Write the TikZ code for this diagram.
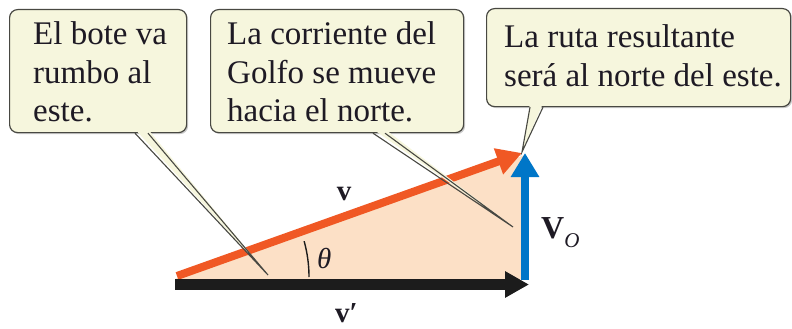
\documentclass[tikz,border=0pt]{standalone}
\usepackage{fontspec}
\setmainfont{Liberation Serif}
\usetikzlibrary{arrows.meta,calc,shadows}
\definecolor{boxfill}{RGB}{246,246,221}
\definecolor{boxline}{RGB}{72,72,66}
\definecolor{trifill}{RGB}{252,224,198}
\definecolor{orng}{RGB}{240,88,36}
\definecolor{blu}{RGB}{0,118,200}
\definecolor{blk}{RGB}{28,28,28}
\definecolor{txt}{RGB}{30,26,36}
\tikzset{
  callbox/.style={draw=boxline, fill=boxfill, line width=1.2pt, rounded corners=8pt, anchor=north west, inner sep=0pt,
    drop shadow={shadow xshift=1.5pt, shadow yshift=-1.5pt, opacity=0.35, fill=black!60}},
  boxtext/.style={anchor=base west, inner sep=0pt, text=txt, font=\fontsize{33}{38}\selectfont},
  tailfill/.style={fill=boxfill, draw=none},
  tailline/.style={draw=boxline, line width=1.1pt, line join=miter},
  vec/.style={font=\fontsize{29}{30}\selectfont\bfseries, inner sep=0pt, text=txt}
}
\begin{document}
\begin{tikzpicture}[x=1pt,y=-1pt]
\useasboundingbox (0,0) rectangle (792,329);

% triangle fill
\fill[trifill] (175,279) -- (525,155) -- (525,279) -- cycle;

% vectors
\coordinate (o) at (177,276);
\coordinate (tip) at (522,153);
\draw[orng, line width=8pt, -{Triangle[length=25pt,width=26pt]}] (o) -- (tip);
\coordinate (b0) at (175,284.5);
\coordinate (b1) at (529,284.5);
\draw[blk, line width=11pt, -{Triangle[length=24pt,width=25pt]}] (b0) -- (b1);
\coordinate (u0) at (525,280);
\coordinate (u1) at (525,153);
\draw[blu, line width=8pt, -{Triangle[length=24pt,width=27pt]}] (u0) -- (u1);

% angle
\draw[blk, line width=1.4pt] plot[domain=0:15.5, samples=25] ({175+134*cos(\x)}, {277-134*sin(\x)});
\node[anchor=base west, inner sep=0pt, text=txt, font=\fontsize{29}{30}\selectfont\itshape] (theta) at (317,268) {θ};

% labels
\node[vec, anchor=base] (vlab) at (344,200) {v};
\node[vec, anchor=base west] (vplab) at (335,322) {v′};
\node[anchor=base west, inner sep=0pt, text=txt, font=\fontsize{32}{32}\selectfont\bfseries] (volab) at (541,238) {V\raisebox{-9pt}{\fontsize{21}{21}\selectfont\mdseries\itshape O}};

% boxes
\node[callbox, minimum width=177pt, minimum height=123pt] (box1) at (9,9) {};
\node[callbox, minimum width=253pt, minimum height=123pt] (box2) at (210,9) {};
\node[callbox, minimum width=304pt, minimum height=98pt] (box3) at (486,8) {};

% texts
\node[boxtext] (t11) at (33,45) {El bote va};
\node[boxtext] (t12) at (33,83) {rumbo al};
\node[boxtext] (t13) at (33,121) {este.};
\node[boxtext] (t21) at (227,45) {La corriente del};
\node[boxtext] (t22) at (227,83) {Golfo se mueve};
\node[boxtext] (t23) at (227,121) {hacia el norte.};
\node[boxtext] (t31) at (504,48) {La ruta resultante};
\node[boxtext] (t32) at (504,86) {será al norte del este.};

% tails
\coordinate (p1) at (268,275);
\coordinate (p2) at (513,227);
\coordinate (p3) at (522,152);
\coordinate (a1) at ($(box1.south west)+(126,0)$);
\coordinate (c1) at ($(box1.south west)+(139,0)$);
\coordinate (a2) at ($(box2.south west)+(163,0)$);
\coordinate (c2) at ($(box2.south west)+(175,0)$);
\coordinate (a3) at ($(box3.south west)+(44,0)$);
\coordinate (c3) at ($(box3.south west)+(57,0)$);

\fill[tailfill] ($(a1)+(0,-4)$) -- ($(c1)+(0,-4)$) -- (p1) -- cycle;
\draw[tailline] (a1) -- (p1) -- (c1);
\fill[tailfill] ($(a2)+(0,-4)$) -- ($(c2)+(0,-4)$) -- (p2) -- cycle;
\draw[tailline] (a2) -- (p2) -- (c2);
\fill[tailfill] ($(a3)+(0,-4)$) -- ($(c3)+(0,-4)$) -- (p3) -- cycle;
\draw[tailline] (a3) -- (p3) -- (c3);
\end{tikzpicture}
\end{document}
